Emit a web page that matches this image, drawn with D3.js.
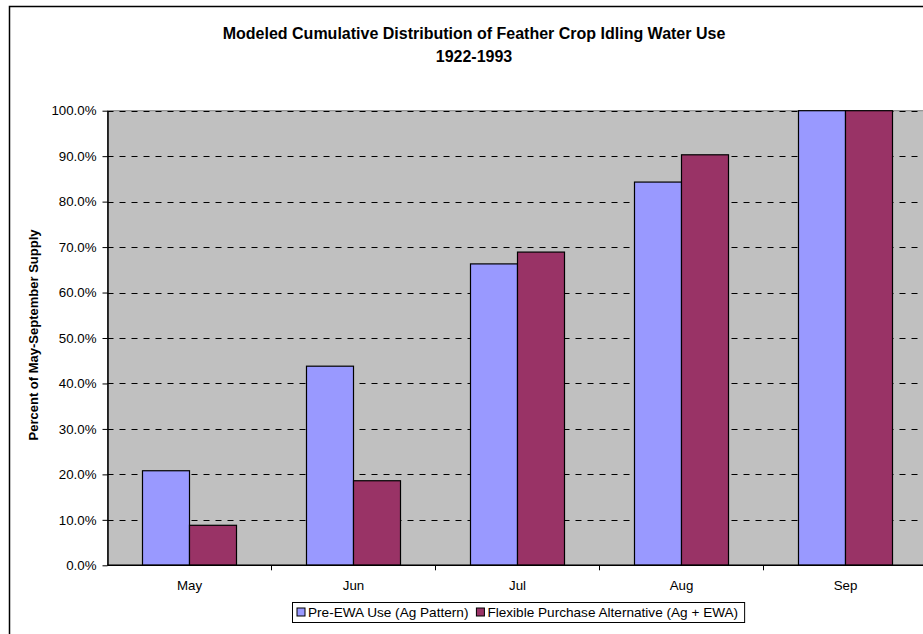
<!DOCTYPE html>
<html>
<head>
<meta charset="utf-8">
<script src="https://cdn.jsdelivr.net/npm/d3@7"></script>
<style>
  html, body { margin: 0; padding: 0; background: #fff; }
  svg { display: block; font-family: "Liberation Sans", Arial, sans-serif; }
</style>
</head>
<body>
<svg id="chart" width="923" height="634"></svg>
<script>
// Months shown on the horizontal axis
const months = ["May", "Jun", "Jul", "Aug", "Sep"];
// Cumulative share of May–September supply, percent
const preEwa = [20.8, 43.8, 66.3, 84.3, 100.0];
const flexiblePurchase = [8.8, 18.6, 68.9, 90.3, 100.0];
const seriesNames = ["Pre-EWA Use (Ag Pattern)", "Flexible Purchase Alternative (Ag + EWA)"];
const seriesColors = ["#9999FF", "#993366"];
const yTicks = [0, 10, 20, 30, 40, 50, 60, 70, 80, 90, 100];

const svg = d3.select("#chart");

// Chart-area frame (runs past the right and bottom edges of the page)
svg.append("rect")
  .attr("x", 9.5).attr("y", 6.5)
  .attr("width", 1000).attr("height", 700)
  .attr("fill", "#fff").attr("stroke", "#000").attr("stroke-width", 1.5);

const plot = { left: 107.5, top: 110.7, bottom: 565.3, step: 164 };
plot.right = plot.left + plot.step * months.length;

const x0 = d3.scaleBand().domain(months).range([plot.left, plot.right]).padding(0);
const x1 = d3.scaleBand().domain([0, 1])
  .range([x0.bandwidth() * 0.2134, x0.bandwidth() * 0.7866]).padding(0);
const y = d3.scaleLinear().domain([0, 100]).range([plot.bottom, plot.top]);

// Plot background
svg.append("rect")
  .attr("x", plot.left).attr("y", plot.top)
  .attr("width", plot.right - plot.left).attr("height", plot.bottom - plot.top)
  .attr("fill", "#C0C0C0").attr("stroke", "#808080").attr("stroke-width", 1);

// Dashed horizontal gridlines
svg.append("g").selectAll("line")
  .data(yTicks.filter(d => d > 0))
  .join("line")
  .attr("x1", plot.left).attr("x2", plot.right)
  .attr("y1", d => Math.round(y(d)) + 0.5).attr("y2", d => Math.round(y(d)) + 0.5)
  .attr("stroke", "#000").attr("stroke-width", 1)
  .attr("stroke-dasharray", "6,6");

// Bars
const rows = months.map((m, i) => ({ month: m, values: [preEwa[i], flexiblePurchase[i]] }));
svg.append("g").selectAll("g")
  .data(rows)
  .join("g")
  .attr("transform", d => `translate(${x0(d.month)},0)`)
  .selectAll("rect")
  .data(d => d.values.map((v, k) => ({ k, v })))
  .join("rect")
  .attr("x", d => x1(d.k))
  .attr("y", d => y(d.v))
  .attr("width", x1.bandwidth())
  .attr("height", d => y(0) - y(d.v))
  .attr("fill", d => seriesColors[d.k])
  .attr("stroke", "#000").attr("stroke-width", 1.2);

// Y axis
const yAxis = d3.axisLeft(y)
  .tickValues(yTicks)
  .tickFormat(d => d.toFixed(1) + "%")
  .tickSizeInner(5).tickSizeOuter(0).tickPadding(6);
const gy = svg.append("g").attr("transform", `translate(${plot.left},0)`).call(yAxis);
gy.select(".domain").attr("stroke", "#000").attr("stroke-width", 1.5);
gy.selectAll(".tick line").attr("stroke", "#000");
gy.selectAll(".tick text")
  .attr("font-size", "13.3px").attr("fill", "#000")
  .attr("font-family", "Liberation Sans, Arial, sans-serif");

// X axis: ticks at the category boundaries
const gx = svg.append("g").attr("transform", `translate(0,${plot.bottom})`);
gx.append("line")
  .attr("x1", plot.left).attr("x2", plot.right)
  .attr("stroke", "#000").attr("stroke-width", 1.5);
gx.selectAll("line.tk")
  .data(months.slice(1))
  .join("line").attr("class", "tk")
  .attr("x1", d => x0(d)).attr("x2", d => x0(d))
  .attr("y1", 0).attr("y2", 5)
  .attr("stroke", "#000");
gx.selectAll("text")
  .data(months)
  .join("text")
  .attr("x", d => x0(d) + x0.bandwidth() / 2)
  .attr("y", 25)
  .attr("text-anchor", "middle")
  .attr("font-size", "13.3px")
  .text(d => d);

// Title
svg.append("text")
  .attr("x", 474).attr("y", 39)
  .attr("text-anchor", "middle")
  .attr("font-size", "16px").attr("font-weight", "bold")
  .text("Modeled Cumulative Distribution of Feather Crop Idling Water Use");
svg.append("text")
  .attr("x", 474).attr("y", 62)
  .attr("text-anchor", "middle")
  .attr("font-size", "16px").attr("font-weight", "bold")
  .text("1922-1993");

// Y axis title
svg.append("text")
  .attr("transform", "translate(38,335) rotate(-90)")
  .attr("text-anchor", "middle")
  .attr("font-size", "13px").attr("font-weight", "bold")
  .text("Percent of May-September Supply");

// Legend
const legend = svg.append("g");
const lgX = 292, lgY = 602, lgH = 20;
const items = legend.selectAll("g").data(seriesNames).join("g");
let cursor = lgX + 5;
items.each(function (name, i) {
  const g = d3.select(this);
  g.append("rect")
    .attr("x", cursor).attr("y", lgY + lgH / 2 - 4)
    .attr("width", 8).attr("height", 8)
    .attr("fill", seriesColors[i]).attr("stroke", "#000").attr("stroke-width", 1);
  const t = g.append("text")
    .attr("x", cursor + 11).attr("y", lgY + lgH / 2 + 5)
    .attr("font-size", "13.6px")
    .text(name);
  cursor += 11 + t.node().getComputedTextLength() + 8;
});
legend.insert("rect", ":first-child")
  .attr("x", lgX + 0.5).attr("y", lgY + 0.5)
  .attr("width", cursor - lgX - 2).attr("height", lgH)
  .attr("fill", "#fff").attr("stroke", "#000").attr("stroke-width", 1);
</script>
</body>
</html>
